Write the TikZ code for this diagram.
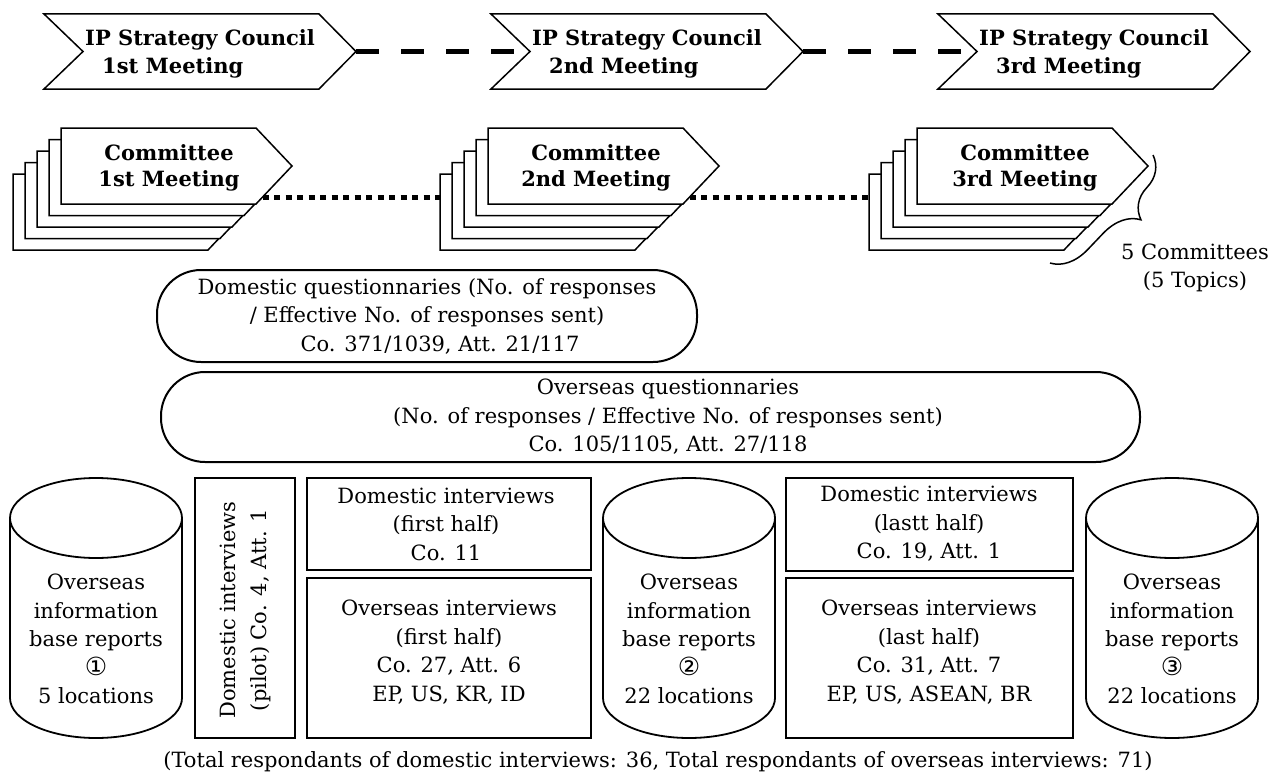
\documentclass[tikz,border=0pt]{standalone}
\usepackage{fontspec}
\setmainfont{DejaVu Serif}
\newfontfamily\symfont{DejaVu Sans}
\usetikzlibrary{decorations.pathreplacing}
\tikzset{
  shp/.style={draw=black, fill=white, line width=1.5pt, line join=miter},
  boldtxt/.style={font=\bfseries\fontsize{21}{28}\selectfont, align=left, inner sep=0pt},
  bodytxt/.style={font=\fontsize{21}{28.5}\selectfont, align=center, inner sep=0pt},
  cmtxt/.style={font=\bfseries\fontsize{21}{26}\selectfont, align=center, inner sep=0pt},
  plainbox/.style={draw, line width=1.6pt, inner sep=0pt},
  rbox/.style={draw, line width=2pt, rounded corners=44pt, inner sep=0pt},
  cyl/.style={draw, line width=1.8pt},
  dashconn/.style={line width=5.5pt, dash pattern=on 23pt off 22pt},
  dotconn/.style={line width=5pt, dash pattern=on 6pt off 5.5pt},
  bracestyle/.style={line width=1.5pt, decorate, decoration={brace, amplitude=36pt, aspect=0.37}}
}
\begin{document}
\begin{tikzpicture}[x=1pt,y=1pt]
\useasboundingbox (0,0) rectangle (1274,-776);

% ---- IP Strategy Council chevrons ----
\foreach \L/\ord/\nm in {44/1st/c1, 491/2nd/c2, 938/3rd/c3} {
  \draw[shp] (\L,-14) -- ++(275,0) -- ++(37,-37.5) -- ++(-37,-37.5) -- ++(-275,0) -- ++(39,37.5) -- cycle;
  \coordinate (\nm-notch) at (\L+39,-51.5);
  \coordinate (\nm-tip) at (\L+312,-51.5);
  \node[boldtxt, anchor=west] (\nm-txt) at (\L+41,-54) {IP Strategy Council\\\hspace{17pt}\ord\ Meeting};
}
\draw[dashconn] (c1-tip) -- (c2-notch);
\draw[dashconn] (c2-tip) -- (c3-notch);

% ---- Committee stacks ----
\foreach \L/\ord/\nm in {61/1st/s1, 488/2nd/s2, 917/3rd/s3} {
  \foreach \k in {4,3,2,1,0} {
    \draw[shp] ({\L-12*\k},{-128-11.5*\k}) -- ++(195,0) -- ++(36,-38) -- ++(-36,-38) -- ++(-195,0) -- cycle;
  }
  \node[cmtxt] (\nm-txt) at (\L+108,-168) {Committee\\\ord\ Meeting};
  \coordinate (\nm-front) at (\L+201.6,-197);
  \coordinate (\nm-back) at (\L-48,-197);
}
\draw[dotconn] (s1-front) -- (s2-back);
\draw[dotconn] (s2-front) -- (s3-back);

% ---- brace ----
\coordinate (brA) at (1153,-155);
\coordinate (brB) at (1050,-263);
\draw[bracestyle] (brA) -- (brB);
\node[bodytxt] (cmt) at (1195,-268) {5 Committees\\(5 Topics)};

% ---- questionnaires ----
\node[rbox, minimum width=540pt, minimum height=92pt] (dq) at (427,-316) {};
\node[bodytxt] (dq-t) at (427,-316)
  {Domestic questionnaries (No. of responses\\/ Effective No. of responses sent)\\\hspace*{26pt}Co. 371/1039, Att. 21/117};
\node[rbox, minimum width=979pt, minimum height=90pt] (oq) at (650.5,-417) {};
\node[bodytxt] (oq-t) at (668,-417)
  {Overseas questionnaries\\(No. of responses / Effective No. of responses sent)\\Co. 105/1105, Att. 27/118};

% ---- cylinders ----
\foreach \cx/\nm/\num/\loc in {96/y1/①/5, 689/y2/②/22, 1172/y3/③/22} {
  \draw[cyl] (\cx-86,-518) -- (\cx-86,-698) arc[start angle=180, end angle=360, x radius=86, y radius=40] -- (\cx+86,-518);
  \draw[cyl] (\cx,-518) ellipse [x radius=86, y radius=40];
  \node[bodytxt] (\nm) at (\cx,-639) {Overseas\\information\\base reports\\{\symfont\fontsize{25}{28.5}\selectfont\num}\\\loc\ locations};
}

% ---- interview boxes ----
\node[plainbox, minimum width=100pt, minimum height=260pt] (pilot) at (245,-608) {};
\node[bodytxt, font=\fontsize{21}{31}\selectfont, rotate=90] (pilot-t) at (245,-610) {Domestic interviews\\(pilot) Co. 4, Att. 1};

\node[plainbox, minimum width=284pt, minimum height=92pt] (d1) at (449,-524) {};
\node[bodytxt] (d1-t) at (446,-524) {Domestic interviews\\(first half)\\Co. 11};
\node[plainbox, minimum width=284pt, minimum height=160pt] (o1) at (449,-658) {};
\node[bodytxt] (o1-t) at (449,-652) {Overseas interviews\\(first half)\\Co. 27, Att. 6\\EP, US, KR, ID};

\node[plainbox, minimum width=287pt, minimum height=93pt] (d2) at (929.5,-524.5) {};
\node[bodytxt] (d2-t) at (929,-524) {Domestic interviews\\(lastt half)\\Co. 19, Att. 1};
\node[plainbox, minimum width=287pt, minimum height=160pt] (o2) at (929.5,-658) {};
\node[bodytxt] (o2-t) at (929,-652) {Overseas interviews\\(last half)\\Co. 31, Att. 7\\EP, US, ASEAN, BR};

% ---- caption ----
\node[bodytxt] (cap) at (658,-762) {(Total respondants of domestic interviews: 36, Total respondants of overseas interviews: 71)};
\end{tikzpicture}
\end{document}
